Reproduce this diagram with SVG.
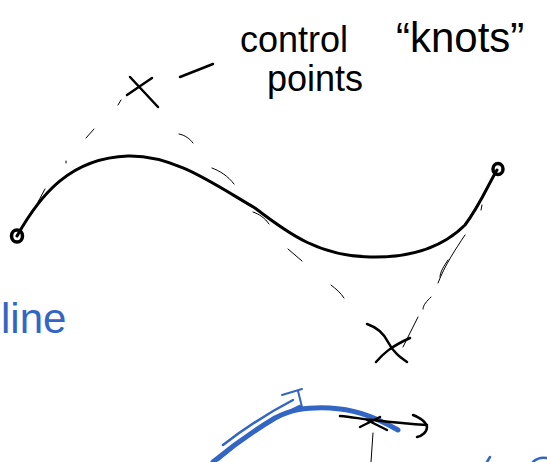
<svg xmlns="http://www.w3.org/2000/svg" width="547" height="462" viewBox="0 0 547 462">
<style>
.k{fill:none;stroke:#000;stroke-linecap:round;stroke-linejoin:round}
.main{stroke-width:3}
.thin{stroke-width:1}
.mid{stroke-width:2.5}
.ring{stroke-width:3.5}
.b{fill:none;stroke:#3366c4;stroke-linecap:round;stroke-linejoin:round}
.t{font-family:"Liberation Sans",Arial,sans-serif;fill:#000}
</style>
<rect width="547" height="462" fill="#fff"/>
<g id="labels">
<text class="t" x="240" y="52" font-size="36">control</text>
<text class="t" x="267" y="91" font-size="36">points</text>
<text class="t" x="396" y="52" font-size="42">“knots”</text>
<text class="t" x="1" y="333" font-size="42" style="fill:#3366c4">line</text>
</g>
<g id="spline">
<path class="k main" d="M17,236 C40,195 70,158 128,156 C175,155 215,185 255,208 C290,235 320,256 370,257 C415,258 445,245 465,225 C480,205 488,185 497,170"/>
<ellipse class="k ring" cx="17" cy="236" rx="5.5" ry="6"/>
<ellipse class="k ring" cx="498" cy="169" rx="5" ry="5.5"/>
</g>
<g id="control-point-1">
<path class="k mid" d="M127,95 L152,78"/>
<path class="k mid" d="M130,77 L158,107"/>
</g>
<g id="control-point-2">
<path class="k mid" d="M367,324 C376,327 383,332 388,342 C393,352 400,357 407,362"/>
<path class="k mid" d="M376,362 C383,354 390,347 410,338"/>
</g>
<g id="connectors">
<path class="k mid" d="M180,77 L213,64"/>
<path class="k thin" d="M118,105 L121,100"/>
<path class="k thin" d="M86,138 L94,129"/>
<path class="k thin" d="M66,161 L66,163"/>
<path class="k thin" d="M38,202 L45,189"/>
<path class="k thin" d="M179,134 C185,135 190,139 193,143"/>
<path class="k thin" d="M212,168 C220,171 228,176 234,184"/>
<path class="k thin" d="M253,212 C259,214 265,218 269,224"/>
<path class="k thin" d="M288,249 L302,261"/>
<path class="k thin" d="M331,285 C336,289 341,293 344,298"/>
<path class="k thin" d="M465,235 C455,250 445,265 438,283"/>
<path class="k thin" d="M482,205 L481,210"/>
<path class="k thin" d="M448,260 C444,266 440,272 440,277"/>
<path class="k thin" d="M431,297 C427,301 423,305 423,309"/>
<path class="k thin" d="M418,317 L403,347"/>
</g>
<g id="bottom-sketch">
<path class="b" stroke-width="5" d="M213,462 C230,448 255,430 275,418 C290,410 305,407 330,408 C350,409 370,414 398,430"/>
<path class="b" stroke-width="2.5" d="M223,445 C245,428 270,412 293,400"/>
<path class="b" stroke-width="2.5" d="M218,460 C245,436 270,420 300,406"/>
<path class="b" stroke-width="2" d="M282,395 L302,389"/>
<path class="b" stroke-width="2" d="M298,391 L302,407"/>
<path class="k mid" d="M340,416 C352,417 362,419 373,420 C390,422 410,424 427,425"/>
<path class="k mid" d="M413,415 C420,418 426,421 427,427 C427,432 422,436 417,437"/>
<path class="k mid" d="M360,427 L380,417"/>
<path class="k mid" d="M367,420 L387,430"/>
<path class="k thin" d="M373,433 L371,462"/>
<path class="b" stroke-width="2.5" d="M490,457 L487,462"/>
<path class="b" stroke-width="2.5" d="M533,462 C536,459 541,457 547,458"/>
</g>
</svg>
